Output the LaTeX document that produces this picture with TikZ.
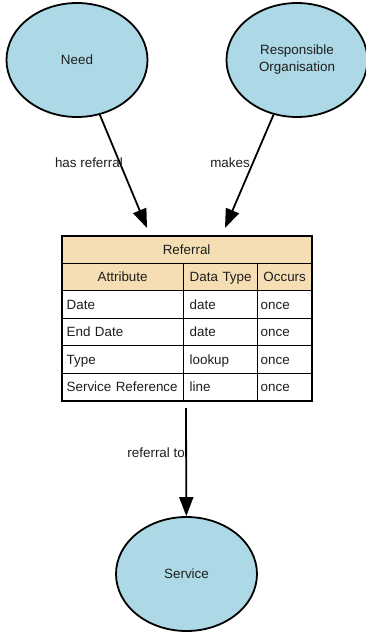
\documentclass[tikz,border=0pt]{standalone}
\usepackage{fontspec}
\setmainfont{Liberation Sans}
\usetikzlibrary{shapes.geometric,arrows.meta}
\definecolor{entity}{HTML}{ADD8E6}
\definecolor{headfill}{HTML}{F5DEB3}
\definecolor{ink}{HTML}{1E1E1E}
\tikzset{
  entitynode/.style={ellipse, draw=black, line width=1.8pt, fill=entity, inner sep=0pt,
    minimum width=141pt, minimum height=114pt, align=center, text=ink},
  arr/.style={line width=1.8pt, -{Triangle[length=19pt,width=14pt]}},
  lbl/.style={text=ink, inner sep=0pt},
  cell/.style={draw=black, line width=1.3pt, rectangle, inner ysep=0pt, minimum height=27.5pt,
    anchor=north west, text height=11.5pt, text depth=1.5pt, text=ink,
    execute at begin node={\hyphenpenalty=10000\relax}},
  cA/.style={cell, inner xsep=5pt, text width=112pt, align=left},
  cB/.style={cell, inner xsep=6pt, text width=62pt, align=left},
  cC/.style={cell, inner xsep=3pt, text width=48pt, align=left},
  hA/.style={cA, fill=headfill, align=center},
  hB/.style={cB, fill=headfill, align=center},
  hC/.style={cC, fill=headfill, align=center},
}
\begin{document}
\begin{tikzpicture}[x=1pt, y=-1pt, font=\fontsize{13.4}{17}\selectfont]
\useasboundingbox (0,0) rectangle (366,633);
\fill[white] (0,0) rectangle (366,633);

% entities
\node[entitynode] (need) at (77,60) {Need};
\node[entitynode] (org) at (297,60) {Responsible\\Organisation};
\node[entitynode] (svc) at (186.5,574) {Service};

% table
\node[cell, fill=headfill, minimum width=250pt, inner xsep=0pt, align=center] (thead) at (61,235) {Referral};
\node[hA] (h1) at (61,262.5) {Attribute};
\node[hB] (h2) at (183,262.5) {Data Type};
\node[hC] (h3) at (257,262.5) {Occurs};

\node[cA] (r1a) at (61,290) {Date};
\node[cB] (r1b) at (183,290) {date};
\node[cC] (r1c) at (257,290) {once};

\node[cA] (r2a) at (61,317.5) {End Date};
\node[cB] (r2b) at (183,317.5) {date};
\node[cC] (r2c) at (257,317.5) {once};

\node[cA] (r3a) at (61,345) {Type};
\node[cB] (r3b) at (183,345) {lookup};
\node[cC] (r3c) at (257,345) {once};

\node[cA] (r4a) at (61,372.5) {\mbox{Service Reference}};
\node[cB] (r4b) at (183,372.5) {line};
\node[cC] (r4c) at (257,372.5) {once};

\node[draw=black, line width=2pt, rectangle, inner sep=0pt, minimum width=250pt, minimum height=165pt, anchor=north west] (tbl) at (61,235) {};

% connector end points
\coordinate (t1) at (147,228);
\coordinate (t2) at (225,228);
\coordinate (t3) at (186,408);

\draw[arr] (need) -- (t1);
\draw[arr] (org) -- (t2);
\draw[arr] (t3) -- (svc);

% connector labels
\node[lbl, anchor=east] (l1) at (123,163) {has referral};
\node[lbl, anchor=east] (l2) at (250,163) {makes};
\node[lbl, anchor=east] (l3) at (185,453) {referral to};
\end{tikzpicture}
\end{document}
